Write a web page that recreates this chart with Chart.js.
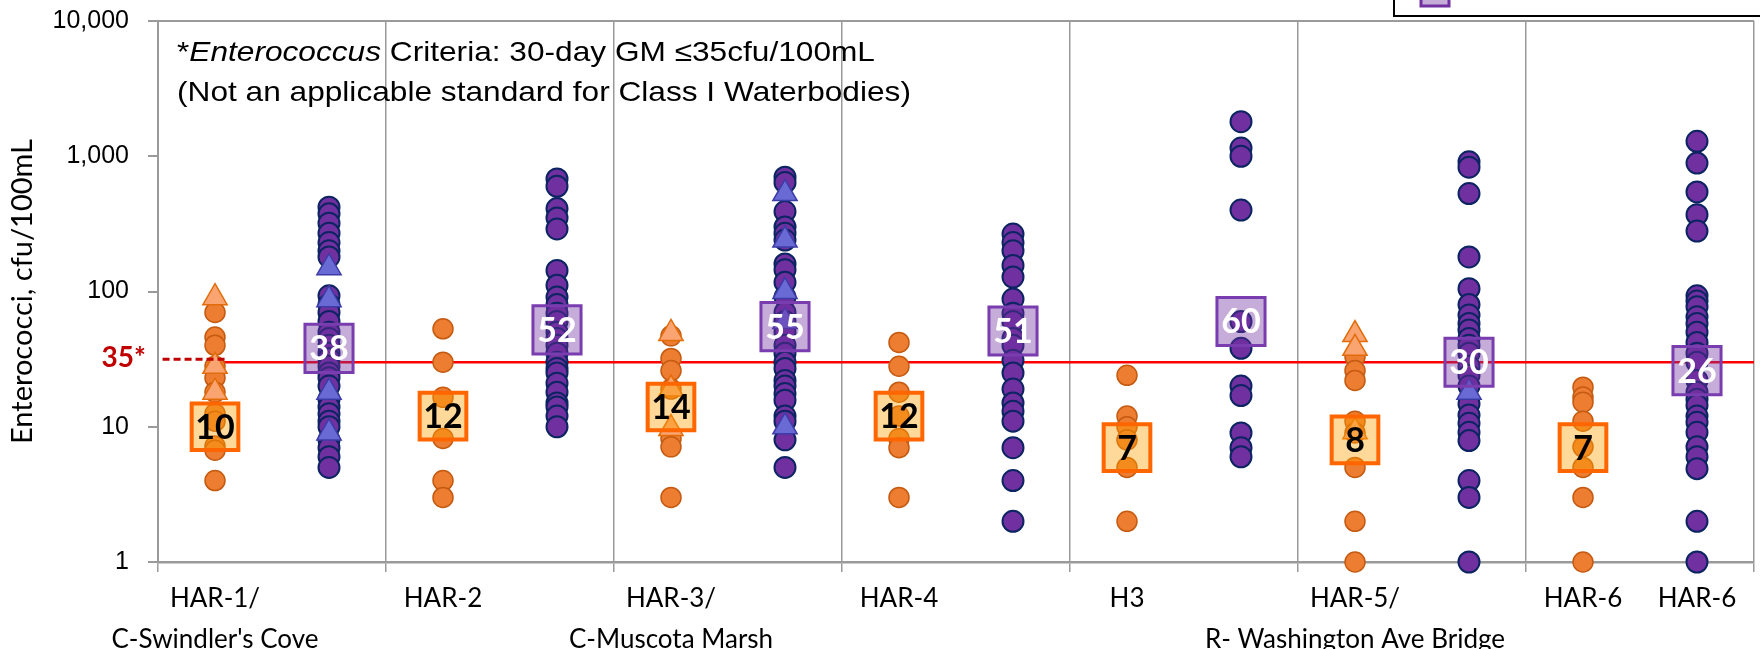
<!DOCTYPE html>
<html>
<head>
<meta charset="utf-8">
<title>Enterococci by station</title>
<script src="https://cdn.jsdelivr.net/npm/chart.js@4.4.1/dist/chart.umd.min.js"></script>
<style>
    html, body { margin: 0; padding: 0; background: #fff; }
    canvas { display: block; }
</style>
</head>
<body>
<canvas id="enteroChart" width="1760" height="649"></canvas>
<script>
// one entry per sample column (two columns per station band)
const columnLabels = [
    ['HAR-1/', "C-Swindler's Cove"], [],
    ['HAR-2'], [],
    ['HAR-3/', 'C-Muscota Marsh'], [],
    ['HAR-4'], [],
    ['H3'], [],
    ['HAR-5/', 'R- Washington Ave Bridge'], [],
    ['HAR-6'], ['HAR-6']
];
const yTicks = [1, 10, 100, 1000, 10000];

// single samples, one list per band (left column = orange, right column = purple)
const orangeDots = [
    [70, 46, 40, 28, 23, 18, 12.5, 11, 7.2, 6.7, 4],
    [53, 30, 16.5, 8.2, 4, 3],
    [47, 32, 26, 19, 8.2, 7.1, 3],
    [42, 28, 18, 12, 8.2, 7, 3],
    [24, 12, 10, 8, 5, 2],
    [33, 26, 22, 11, 9, 5, 2, 1],
    [19.6, 16.6, 15.2, 11, 7.1, 5, 3, 1]
];
const orangeTriangles = [
    [90, 28, 18],
    [],
    [49, 19, 9.7],
    [],
    [],
    [48, 38, 9.2],
    []
];
const purpleDots = [
    [420, 375, 320, 270, 230, 200, 180, 93, 80, 70, 60, 50, 45, 40, 35, 32, 28, 25, 23, 20, 16, 14, 12.5, 11, 10, 8, 7, 6, 5],
    [680, 600, 410, 350, 290, 143, 111, 91, 80, 69, 60, 50, 45, 40, 35, 30, 27, 25, 21, 18, 15, 14, 12, 10],
    [700, 640, 390, 300, 270, 240, 160, 145, 117, 91, 70, 60, 50, 40, 35, 30, 27, 22, 20, 17.6, 15.7, 12, 11, 8, 5],
    [266, 230, 200, 156, 128, 88, 69, 60, 45, 40, 31, 25, 19, 15, 13, 11, 7, 4, 2],
    [1800, 1150, 1000, 400, 60, 38, 20, 17, 9, 7, 6],
    [910, 830, 530, 180, 105, 80, 67, 58, 52, 45, 40, 35, 28, 24, 20, 14.8, 12.2, 10.6, 9.1, 7.9, 4, 3, 1],
    [1290, 890, 545, 370, 280, 93, 85, 77, 65, 58, 50, 42, 35, 30, 22, 18, 16, 14.4, 12, 10.8, 9.1, 7.1, 6, 4.9, 2, 1]
];
const purpleTriangles = [
    [150, 87, 18, 9],
    [],
    [530, 240, 100, 60, 10],
    [],
    [],
    [18],
    []
];

// 30-day geometric means
const orangeGM = [10, 12, 14, 12, 7, 8, 7];
const purpleGM = [38, 52, 55, 51, 60, 30, 26];

const criteriaLine = 30;
const criteriaDash = 31.5;
const criteriaLabel = '35*';

const bandCount = 7;
const xTickValues = [];
for (let i = 0; i <= bandCount; i++) xTickValues.push(i);
columnLabels.forEach((l, i) => xTickValues.push(0.25 + 0.5 * i));
xTickValues.sort((a, b) => a - b);

const GRID = '#9a9a9a';

function columnPoints(groups, offset) {
    const pts = [];
    groups.forEach((vals, band) => {
        vals.forEach(v => pts.push({ x: band + offset, y: v }));
    });
    return pts;
}

function gmPoints(values, offset) {
    return values.map((v, band) => ({ x: band + offset, y: v }));
}

function isBandEdge(v) {
    return Math.abs(v - Math.round(v)) < 1e-6;
}

function labelFor(v) {
    if (isBandEdge(v)) return '';
    const idx = Math.round((v - 0.25) / 0.5);
    const l = columnLabels[idx];
    if (!l || l.length === 0) return '';
    return l.length === 1 ? l[0] : l;
}

const gmLabelPlugin = {
    id: 'gmLabels',
    afterDatasetsDraw(chart) {
        const ctx = chart.ctx;
        chart.data.datasets.forEach((ds, i) => {
            if (!ds.gmTextColor) return;
            const meta = chart.getDatasetMeta(i);
            ctx.save();
            ctx.font = 'bold 34px Lato';
            ctx.fillStyle = ds.gmTextColor;
            ctx.textAlign = 'center';
            ctx.textBaseline = 'middle';
            meta.data.forEach((pt, j) => {
                ctx.fillText(String(ds.data[j].y), pt.x, pt.y + 1);
            });
            ctx.restore();
        });
    }
};

const notesPlugin = {
    id: 'notes',
    afterDraw(chart) {
        const ctx = chart.ctx;
        const area = chart.chartArea;
        const yScale = chart.scales.y;

        // criteria note, stretched like the original export
        ctx.save();
        ctx.fillStyle = '#000';
        ctx.textBaseline = 'alphabetic';
        ctx.translate(area.left + 19, 61);
        ctx.scale(1.13, 1);
        let x = 0;
        ctx.font = '28px "Liberation Sans"';
        ctx.fillText('*', x, 0);
        x += ctx.measureText('*').width;
        ctx.font = 'italic 28px "Liberation Sans"';
        ctx.fillText('Enterococcus', x, 0);
        x += ctx.measureText('Enterococcus').width;
        ctx.font = '28px "Liberation Sans"';
        ctx.fillText(' Criteria: 30-day GM \u226435cfu/100mL', x, 0);
        ctx.fillText('(Not an applicable standard for Class I Waterbodies)', 0, 40);
        ctx.restore();

        // 35* marker left of the axis
        ctx.save();
        ctx.font = 'bold 28px Lato';
        ctx.fillStyle = '#C00000';
        ctx.textAlign = 'right';
        ctx.textBaseline = 'middle';
        ctx.fillText(criteriaLabel, area.left - 12, yScale.getPixelForValue(criteriaDash) - 1);
        ctx.restore();

        // legend box, mostly outside the picture
        ctx.save();
        ctx.strokeStyle = '#000';
        ctx.lineWidth = 2;
        ctx.strokeRect(1394, -20, 420, 36);
        ctx.fillStyle = 'rgba(112,48,160,0.4)';
        ctx.strokeStyle = '#7030A0';
        ctx.lineWidth = 3;
        ctx.fillRect(1421, -20, 28, 26);
        ctx.strokeRect(1421, -20, 28, 26);
        ctx.restore();
    }
};

const datasets = [
    {
        label: 'criteria dash',
        type: 'line',
        data: [{ x: 0.02, y: criteriaDash }, { x: 0.3, y: criteriaDash }],
        borderColor: '#C00000',
        borderWidth: 3,
        borderDash: [7, 4],
        pointRadius: 0,
        order: 0
    },
    {
        label: 'GM purple',
        data: gmPoints(purpleGM, 0.75),
        pointStyle: 'rect',
        pointRadius: 34,
        backgroundColor: 'rgba(112,48,160,0.4)',
        borderColor: '#7A3DB0',
        borderWidth: 3,
        gmTextColor: '#fff',
        order: 1
    },
    {
        label: 'GM orange',
        data: gmPoints(orangeGM, 0.25),
        pointStyle: 'rect',
        pointRadius: 33,
        backgroundColor: 'rgba(255,160,0,0.4)',
        borderColor: '#FF6600',
        borderWidth: 4,
        gmTextColor: '#000',
        order: 2
    },
    {
        label: 'purple triangles',
        data: columnPoints(purpleTriangles, 0.75),
        pointStyle: 'triangle',
        pointRadius: 14,
        backgroundColor: '#6A6AD4',
        borderColor: '#3C3CA8',
        borderWidth: 1.5,
        order: 3
    },
    {
        label: 'purple dots',
        data: columnPoints(purpleDots, 0.75),
        pointRadius: 10.5,
        backgroundColor: '#7030A0',
        borderColor: '#0D2463',
        borderWidth: 2,
        order: 4
    },
    {
        label: 'orange triangles',
        data: columnPoints(orangeTriangles, 0.25),
        pointStyle: 'triangle',
        pointRadius: 14,
        backgroundColor: '#F9A471',
        borderColor: '#E36C0A',
        borderWidth: 1.5,
        order: 5
    },
    {
        label: 'orange dots',
        data: columnPoints(orangeDots, 0.25),
        pointRadius: 10,
        backgroundColor: '#ED7D31',
        borderColor: '#C55A11',
        borderWidth: 1.5,
        order: 6
    },
    {
        label: 'criteria',
        type: 'line',
        data: [{ x: 0.29, y: criteriaLine }, { x: bandCount, y: criteriaLine }],
        borderColor: '#FF0000',
        borderWidth: 2.5,
        pointRadius: 0,
        order: 7
    }
];
datasets.forEach(ds => { ds.clip = false; });

new Chart(document.getElementById('enteroChart'), {
    type: 'scatter',
    data: { datasets },
    options: {
        responsive: false,
        animation: false,
        events: [],
        layout: { autoPadding: false, padding: { top: 21, right: 5, left: 0, bottom: 0 } },
        plugins: {
            legend: { display: false },
            tooltip: { enabled: false }
        },
        scales: {
            x: {
                type: 'linear',
                min: 0,
                max: bandCount,
                afterBuildTicks: s => { s.ticks = xTickValues.map(v => ({ value: v })); },
                afterFit: s => { s.height = 87; },
                ticks: {
                    autoSkip: false,
                    maxRotation: 0,
                    minRotation: 0,
                    padding: 6,
                    color: '#000',
                    font: { family: 'Lato', size: 26, lineHeight: 1.58 },
                    callback: v => labelFor(v)
                },
                grid: {
                    color: c => (c.tick && isBandEdge(c.tick.value)) ? GRID : 'rgba(0,0,0,0)',
                    tickColor: c => (c.tick && isBandEdge(c.tick.value)) ? GRID : 'rgba(0,0,0,0)',
                    lineWidth: 1.5,
                    tickLength: 10
                },
                border: { color: GRID, width: 2.5 }
            },
            y: {
                type: 'logarithmic',
                min: 1,
                max: 10000,
                afterBuildTicks: s => { s.ticks = yTicks.map(v => ({ value: v })); },
                // keep the plot edge where the original has it, labels may overhang
                afterFit: s => { s.width = 158; s.paddingTop = 0; s.paddingBottom = 0; },
                ticks: {
                    color: '#000',
                    padding: 19,
                    font: { family: 'Liberation Sans', size: 25 },
                    callback: v => Number(v).toLocaleString('en-US')
                },
                grid: {
                    color: c => (c.tick && c.tick.value === 10000) ? GRID : 'rgba(0,0,0,0)',
                    tickColor: GRID,
                    lineWidth: 2,
                    tickLength: 10
                },
                border: { color: GRID, width: 2 },
                title: {
                    display: true,
                    text: 'Enterococci, cfu/100mL',
                    color: '#000',
                    font: { family: 'Lato', size: 29 },
                    padding: { top: 5, bottom: 0 }
                }
            }
        }
    },
    plugins: [gmLabelPlugin, notesPlugin]
});
</script>
</body>
</html>
